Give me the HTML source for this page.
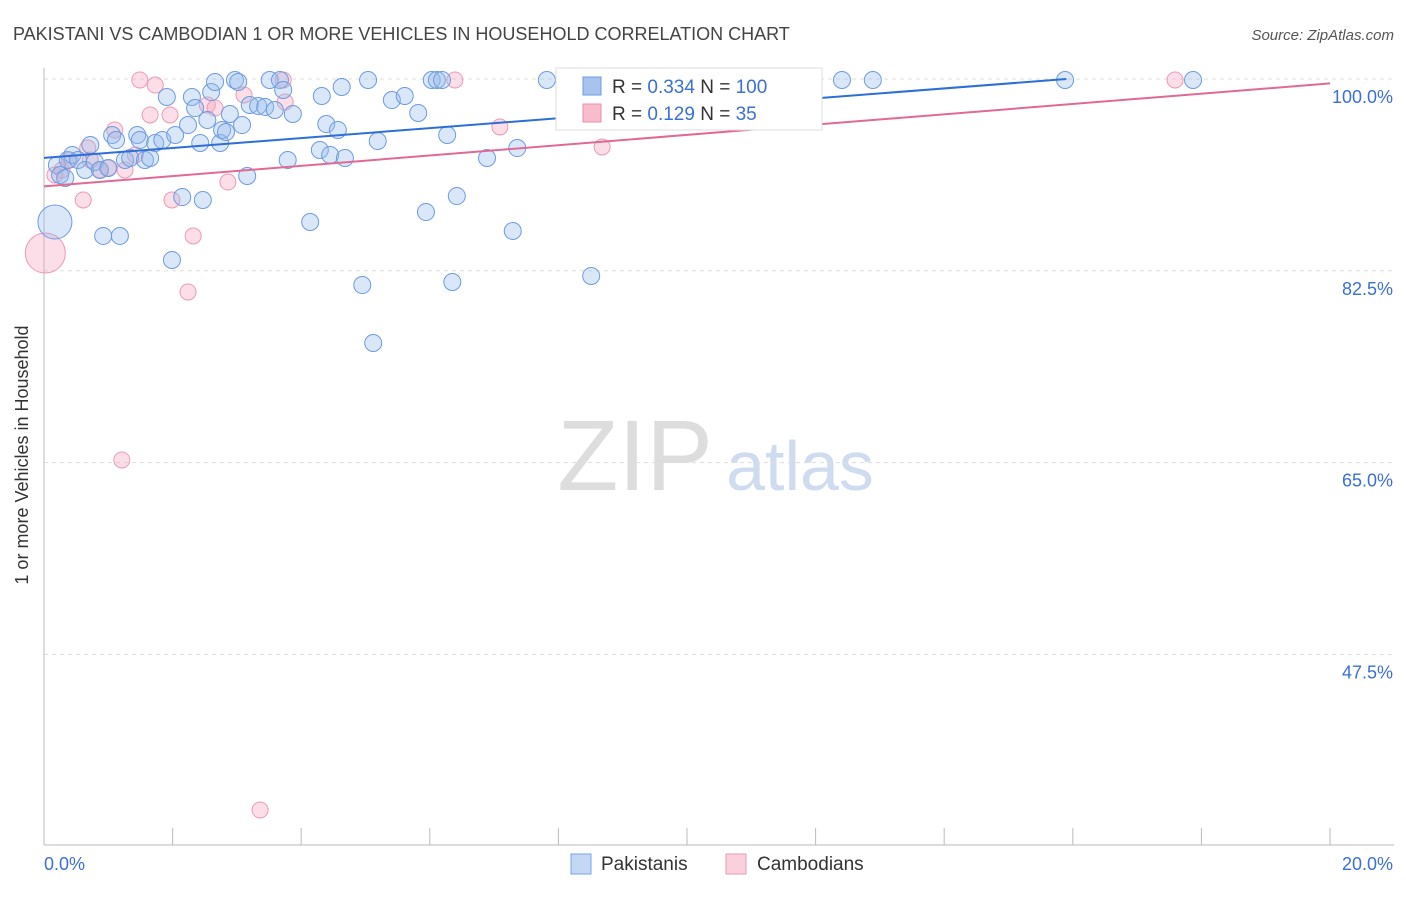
<!DOCTYPE html>
<html><head><meta charset="utf-8"><style>
body{margin:0;background:#fff;font-family:"Liberation Sans",sans-serif;}
svg text{font-family:"Liberation Sans",sans-serif;}
</style></head><body>
<svg width="1406" height="892">
<text x="13" y="40" font-size="18" fill="#444">PAKISTANI VS CAMBODIAN 1 OR MORE VEHICLES IN HOUSEHOLD CORRELATION CHART</text>
<text x="1394" y="40" font-size="15" fill="#555" font-style="italic" text-anchor="end">Source: ZipAtlas.com</text>
<g><text x="635" y="490" font-size="100" fill="#ddd" font-family="Liberation Serif" text-anchor="middle">ZIP</text><text x="800" y="490" font-size="70" fill="#cfdcf0" text-anchor="middle">atlas</text></g>
<g id="grid"></g><g id="axes"></g><g id="pts"></g><g id="trend"></g>
<text x="28" y="455" font-size="18" fill="#333" transform="rotate(-90 28 455)" text-anchor="middle">1 or more Vehicles in Household</text>
<g>
<rect x="556" y="68" width="266" height="62" fill="#fff" stroke="#ddd"/>
<rect x="583" y="77" width="18" height="18" fill="#a8c4ee" stroke="#6d9be0"/>
<rect x="583" y="104" width="18" height="18" fill="#f7bccd" stroke="#ec8fab"/>
<text x="612" y="93" font-size="19" fill="#333">R = <tspan fill="#3a70d4">0.334</tspan>   N = <tspan fill="#3a70d4">100</tspan></text>
<text x="612" y="120" font-size="19" fill="#333">R =  <tspan fill="#3a70d4">0.129</tspan>   N =   <tspan fill="#3a70d4">35</tspan></text>
</g>
<g>
<rect x="571" y="854" width="20" height="20" fill="#c4d7f4" stroke="#7aa4e3"/>
<text x="601" y="870" font-size="19" fill="#333">Pakistanis</text>
<rect x="726" y="854" width="20" height="20" fill="#fad0dc" stroke="#ec9ab3"/>
<text x="757" y="870" font-size="19" fill="#333">Cambodians</text>
</g>
</svg>
<script>
const bx=[.17,.20,.25,.33,.37,.44,.53,.64,.72,.79,.87,.92,1.00,1.06,1.12,1.18,1.26,1.34,1.45,1.49,1.57,1.65,1.73,1.84,1.91,1.99,2.04,2.15,2.24,2.30,2.35,2.43,2.47,2.54,2.60,2.66,2.74,2.77,2.83,2.89,2.97,3.02,3.08,3.16,3.20,3.33,3.44,3.51,3.59,3.67,3.72,3.79,3.87,4.14,4.29,4.32,4.39,4.45,4.57,4.63,4.68,4.95,5.04,5.12,5.19,5.41,5.61,5.82,5.94,6.03,6.11,6.19,6.27,6.35,6.42,6.89,7.29,7.36,7.82,8.26,8.51,8.65,9.35,10.05,11.68,12.41,12.89,15.88,17.87];
const by=[86.95,92.15,91.24,90.97,92.61,93.07,92.61,91.70,93.98,92.43,91.70,85.68,91.88,94.89,94.43,85.68,92.61,92.79,94.89,94.43,92.61,92.79,94.16,94.43,98.36,83.49,94.89,89.23,95.80,98.36,97.35,94.16,88.96,96.26,98.81,99.73,94.16,95.35,95.16,96.81,99.91,99.73,95.80,91.15,97.63,97.54,97.45,99.91,97.17,99.91,99.0,92.61,96.81,86.95,93.52,98.45,95.89,93.07,95.35,99.27,92.79,81.20,99.91,75.91,94.34,98.08,98.45,96.90,87.86,99.91,99.91,99.91,94.89,81.48,89.32,92.79,86.13,93.70,99.91,99.91,82.03,99.91,99.91,99.91,99.91,99.91,99.91,99.91,99.91];
const px=[.02,.17,.28,.40,.61,.68,.87,1.00,1.10,1.26,1.49,1.65,1.73,1.96,1.99,2.24,2.32,2.54,2.66,2.86,3.11,3.36,3.72,3.75,6.39,7.09,8.68,17.59,1.21,1.42,.72];
const py=[84.12,91.24,91.70,92.61,88.96,93.70,91.70,91.88,95.35,91.70,99.91,96.72,99.45,96.72,88.96,80.57,85.68,97.63,97.35,90.60,98.54,33.30,99.91,97.90,99.91,95.62,93.80,99.91,65.24,93.07,92.61];
const blueTrend=[[0,92.8],[15.9,100]];
const pinkTrend=[[0,90.2],[20,99.6]];
const yTicks=[100,82.5,65,47.5];
const yLabels=["100.0%","82.5%","65.0%","47.5%"];
const X=v=>44+v*64.3, Y=v=>79+(100-v)*10.96;
const NS="http://www.w3.org/2000/svg";
function mk(t,a,p){const e=document.createElementNS(NS,t);for(const k in a)e.setAttribute(k,a[k]);document.getElementById(p).appendChild(e);return e;}
yTicks.forEach((t,i)=>{
 const l=mk('line',{x1:44,x2:1394,y1:Y(t),y2:Y(t),stroke:'#ddd','stroke-dasharray':'4 4'},'grid');
 
 
 const tx=mk('text',{x:1393,y:Y(t)+24,'font-size':18,fill:'#3a70d4','text-anchor':'end'},'axes');
 tx.textContent=yLabels[i];
 
 
});
mk('line',{x1:44,x2:44,y1:68,y2:845,stroke:'#bbb'},'axes');
mk('line',{x1:44,x2:1394,y1:845,y2:845,stroke:'#bbb'},'axes');
for(let i=0;i<=10;i++){mk('line',{x1:X(i*2),x2:X(i*2),y1:828,y2:845,stroke:'#bbb'},'axes');}
let t0=mk('text',{x:44,y:870,'font-size':18,fill:'#3a70d4'},'axes');t0.textContent='0.0%';


let t1=mk('text',{x:1393,y:870,'font-size':18,fill:'#3a70d4','text-anchor':'end'},'axes');t1.textContent='20.0%';


px.forEach((v,i)=>{
 const c=mk('circle',{cx:X(v),cy:Y(py[i]),r:i==0?20:8,fill:'rgba(244,160,188,0.35)',stroke:'#ec9ab3','stroke-width':1},'pts');
 
 
});
bx.forEach((v,i)=>{
 const c=mk('circle',{cx:X(v),cy:Y(by[i]),r:i==0?17:8.5,fill:'rgba(150,185,235,0.35)',stroke:'#6d9be0','stroke-width':1},'pts');
 
 
});
const bl=mk('line',{x1:X(blueTrend[0][0]),y1:Y(blueTrend[0][1]),x2:X(blueTrend[1][0]),y2:Y(blueTrend[1][1]),stroke:'#2d6fd6','stroke-width':2},'trend');


const pl=mk('line',{x1:X(pinkTrend[0][0]),y1:Y(pinkTrend[0][1]),x2:X(pinkTrend[1][0]),y2:Y(pinkTrend[1][1]),stroke:'#e06a95','stroke-width':2},'trend');


</script>
</body></html>
